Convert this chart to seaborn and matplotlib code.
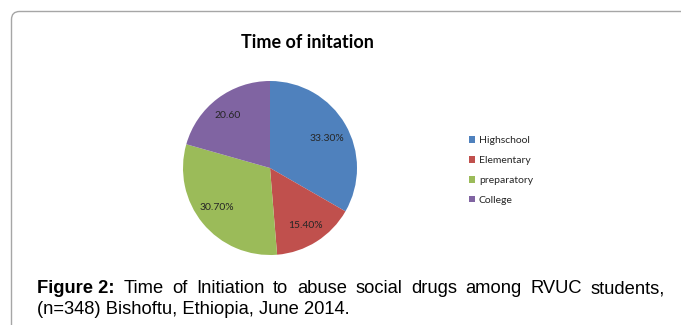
import matplotlib
matplotlib.use("Agg")
import matplotlib.pyplot as plt
import matplotlib.patches as mpatches
import numpy as np
import seaborn as sns

# data
categories = ["Highschool", "Elementary", "preparatory", "College"]
shares = [33.3, 15.4, 30.7, 20.6]
value_labels = ["33.30%", "15.40%", "30.70%", "20.60"]
colors = ["#4F81BD", "#C0504D", "#9BBB59", "#8064A2"]

title = "Time of initation"
caption_bold = "Figure 2:"
caption_line1 = "Time of Initiation to abuse social drugs among RVUC students,"
caption_line2 = "(n=348) Bishoftu, Ethiopia, June 2014."

sns.set_theme(style="white")
plt.rcParams["font.family"] = ["Lato", "DejaVu Sans"]

W, H = 681, 325
fig = plt.figure(figsize=(W / 100, H / 100), dpi=100)

# chart frame (rounded top-left corner, runs off the right and bottom)
frame = mpatches.FancyBboxPatch((11.5, -30), 720, H - 11.5 + 30,
                                boxstyle="round,pad=0,rounding_size=8",
                                transform=None, fill=False,
                                edgecolor="#A6A6A6", lw=1.0)
fig.patches.append(frame)

# pie
cx, cy, r = 270, 168, 87
ax = fig.add_axes([(cx - r) / W, (H - cy - r) / H, 2 * r / W, 2 * r / H])
wedges, _ = ax.pie(shares, colors=colors, startangle=90, counterclock=False,
                   radius=1.0, wedgeprops=dict(linewidth=0))
ax.set_xlim(-1, 1)
ax.set_ylim(-1, 1)
ax.set_aspect("equal")
ax.axis("off")

# value labels inside slices (Excel "best fit" style offsets)
label_r = [0.74, 0.78, 0.76, 0.78]
label_shift = [-3, -1, -3, 2]
for w, txt, rr, sh in zip(wedges, value_labels, label_r, label_shift):
    ang = np.deg2rad((w.theta1 + w.theta2) / 2 + sh)
    ax.text(rr * np.cos(ang), rr * np.sin(ang), txt, ha="center", va="center",
            fontsize=7.5, color="#262626")

fig.text(307 / W, 1 - 43 / H, title, ha="center", va="center",
         fontsize=13, fontweight="bold", color="#000000")

fig.legend(wedges, categories, loc="upper left",
           bbox_to_anchor=(469 / W, 1 - 136 / H), frameon=False,
           fontsize=7.5, handlelength=0.6, handleheight=0.6,
           handletextpad=0.35, labelspacing=1.05, borderpad=0,
           borderaxespad=0)

# caption, first line justified
cap_font = dict(family=["Liberation Sans", "DejaVu Sans"], fontsize=13.2, color="#000000")
x0, x1 = 37, 665
y1, y2 = 1 - 293 / H, 1 - 314 / H
words = [(caption_bold, "bold")] + [(w_, "normal") for w_ in caption_line1.split()]
fig.canvas.draw()
renderer = fig.canvas.get_renderer()
objs = []
for word, weight in words:
    t = fig.text(0, y1, word, ha="left", va="baseline", fontweight=weight, **cap_font)
    objs.append(t)
widths = [t.get_window_extent(renderer).width for t in objs]
gap = (x1 - x0 - sum(widths)) / (len(objs) - 1)
x = x0
for t, wd in zip(objs, widths):
    t.set_x(x / W)
    x += wd + gap
fig.text(x0 / W, y2, caption_line2, ha="left", va="baseline", **cap_font)

fig.savefig("out.png", dpi=100)
